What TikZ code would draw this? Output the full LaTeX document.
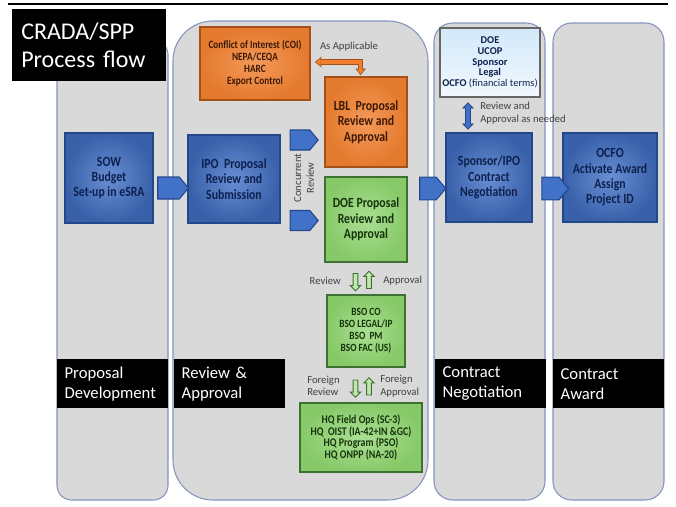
\documentclass[tikz,border=0pt]{standalone}
\usepackage{fontspec}
\setmainfont{Carlito}
\newfontfamily\condfont[FakeStretch=0.84]{Carlito}
\usetikzlibrary{shapes.symbols,shapes.arrows,arrows.meta}
\definecolor{lanegray}{RGB}{217,217,217}
\definecolor{laneedge}{RGB}{132,148,188}
\definecolor{boxblue}{RGB}{66,114,200}
\definecolor{bluedark}{RGB}{36,70,138}
\definecolor{textblue}{RGB}{14,32,78}
\definecolor{boxorange}{RGB}{240,128,48}
\definecolor{orangedark}{RGB}{165,80,22}
\definecolor{textorange}{RGB}{60,25,5}
\definecolor{boxgreen}{RGB}{142,212,110}
\definecolor{greendark}{RGB}{62,112,50}
\definecolor{textgreen}{RGB}{22,52,12}
\definecolor{paleblue}{RGB}{210,232,250}
\definecolor{notegray}{RGB}{64,64,64}

\begin{document}
\begin{tikzpicture}[x=0.75pt,y=-0.75pt,
	lane/.style={fill=lanegray,draw=laneedge,line width=0.8pt},
	band/.style={fill=black,text=white,anchor=north west,align=left,text width=72pt,inner xsep=5.5pt,minimum height=36.75pt,font=\fontsize{12.5}{15}\selectfont},
	bluebox/.style={draw=bluedark,line width=1.2pt,inner color=boxblue!80!white,outer color=boxblue!85!black,text=textblue,align=center,inner sep=1pt,font=\condfont\bfseries\fontsize{10.5}{11.5}\selectfont},
	orangebox/.style={draw=orangedark,line width=1.2pt,inner color=boxorange!80!white,outer color=boxorange!95!black,text=textorange,align=center,inner sep=1pt,font=\condfont\bfseries\fontsize{10.5}{11.5}\selectfont},
	greenbox/.style={draw=greendark,line width=1.2pt,inner color=boxgreen!75!white,outer color=boxgreen!95!black,text=textgreen,align=center,inner sep=1pt,font=\condfont\bfseries\fontsize{10.5}{11.5}\selectfont},
	smalltext/.style={font=\condfont\bfseries\fontsize{8.3}{9}\selectfont},
	chevron/.style={signal,signal to=east,signal pointer angle=100,draw=bluedark,fill=boxblue,line width=0.8pt,inner sep=0pt},
	greenarrow/.style={single arrow,draw=greendark,fill=boxgreen!55!white,line width=0.7pt,minimum height=13pt,single arrow head extend=2.2pt,inner sep=1.4pt},
	note/.style={text=notegray,inner sep=0pt,font=\fontsize{8}{9.5}\selectfont}]

		\useasboundingbox (0,0) rectangle (676,507);
		\draw[line width=1.1pt] (8,4) -- (668,4);

		\filldraw[lane,rounded corners=11pt] (57,40) rectangle (168,500);
		\filldraw[lane,rounded corners=30pt] (173,21) rectangle (428,500);
		\filldraw[lane,rounded corners=14pt] (434,23) rectangle (545,500);
		\filldraw[lane,rounded corners=14pt] (553,23) rectangle (664,500);

		\node[fill=black,text=white,anchor=north west,align=left,text width=102pt,inner xsep=6.75pt,minimum height=54pt,font=\fontsize{18}{21}\selectfont] (title) at (12,9) {CRADA/SPP\\Process flow};

		\node[band] (banddev) at (57,359) {Proposal\\Development};
		\node[band] (bandrev) at (174,359) {Review \&\\Approval};
		\node[band] (bandneg) at (435,359) {Contract\\Negotiation};
		\node[band] (bandaward) at (553,359) {Contract\\Award};

		\node[bluebox,minimum width=66pt,minimum height=67.5pt] (sow) at (109,178) {SOW\\Budget\\Set-up in eSRA};
		\node[bluebox,minimum width=69pt,minimum height=66pt] (ipo) at (234,179) {IPO\ \ Proposal\\Review and\\Submission};
		\node[orangebox,smalltext,minimum width=82.5pt,minimum height=55pt] (coi) at (255,63.5) {Conflict of Interest (COI)\\NEPA/CEQA\\HARC\\Export Control};
		\node[orangebox,minimum width=61.5pt,minimum height=67.5pt] (lbl) at (366,122) {LBL\ \ Proposal\\Review and\\Approval};
		\node[greenbox,minimum width=61.5pt,minimum height=64pt] (doe) at (366,219.5) {DOE Proposal\\Review and\\Approval};
		\node[greenbox,smalltext,minimum width=58.5pt,minimum height=54pt] (bso) at (366,331) {BSO CO\\BSO LEGAL/IP\\BSO\ \ PM\\BSO FAC (US)};
		\node[greenbox,smalltext,font=\condfont\bfseries\fontsize{8.8}{8.8}\selectfont,minimum width=91.5pt,minimum height=52pt] (hq) at (361,437.5) {HQ Field Ops (SC-3)\\HQ\ \ OIST (IA-42+IN \&GC)\\HQ Program (PSO)\\HQ ONPP (NA-20)};
		\node[draw=black!60,line width=1.2pt,top color=paleblue,bottom color=paleblue!30!white,text=textblue,align=center,inner sep=1pt,font=\bfseries\fontsize{7.8}{8}\selectfont,minimum width=75pt,minimum height=52pt] (parties) at (490,62.5) {DOE\\UCOP\\Sponsor\\Legal\\OCFO {\mdseries(financial terms)}};
		\node[bluebox,minimum width=64.5pt,minimum height=67pt] (sponsor) at (489,177.5) {Sponsor/IPO\\Contract\\Negotiation};
		\node[bluebox,minimum width=70.5pt,minimum height=67pt] (ocfo) at (610,177.5) {OCFO\\Activate Award\\Assign\\Project ID};

		\node[chevron,minimum width=23pt,minimum height=16.5pt] (sowipo) at (168.5,188) {};
		\node[chevron,minimum width=21pt,minimum height=15pt] (tolbl) at (300,140) {};
		\node[chevron,minimum width=21pt,minimum height=15pt] (todoe) at (300,220.5) {};
		\node[chevron,minimum width=19.5pt,minimum height=17pt] (doesponsor) at (428,188.5) {};
		\node[chevron,minimum width=20pt,minimum height=17pt] (sponsorocfo) at (550.5,188.5) {};

		\node[note,rotate=90,align=center] (concur) at (304,178) {Concurrent\\Review};
		\node[note] (asapp) at (349,47) {As Applicable};
		\draw[line width=3.9pt,draw=orangedark,{Triangle[width=8pt,length=5pt,line width=0pt]}-{Triangle[width=8pt,length=5pt,line width=0pt]}] ([xshift=3pt,yshift=1.1pt]coi.east) -| ([xshift=-4pt,yshift=0.7pt]lbl.north);
		\draw[line width=2.4pt,draw=boxorange,shorten <=0.9pt,shorten >=0.9pt,{Triangle[width=5.4pt,length=3.4pt,line width=0pt]}-{Triangle[width=5.4pt,length=3.4pt,line width=0pt]}] ([xshift=3pt,yshift=1.1pt]coi.east) -| ([xshift=-4pt,yshift=0.7pt]lbl.north);

		\node[double arrow,shape border rotate=90,fill=boxblue,draw=bluedark,line width=0.6pt,minimum height=19.5pt,double arrow head extend=2pt,inner sep=1.5pt] (negarrow) at (468,116) {};
		\node[note,anchor=west,align=left] (asneeded) at (480,113) {Review and\\Approval as needed};

		\node[greenarrow,shape border rotate=270] (revdown) at (355.5,281) {};
		\node[greenarrow,shape border rotate=90] (appup) at (369,281) {};
		\node[note,anchor=east] (revtext) at (341,281) {Review};
		\node[note,anchor=west] (apptext) at (383,281) {Approval};

		\node[greenarrow,shape border rotate=270] (frevdown) at (355.5,387.5) {};
		\node[greenarrow,shape border rotate=90] (fappup) at (369,387.5) {};
		\node[note,anchor=west,align=left] (frevtext) at (307,386) {Foreign\\Review};
		\node[note,anchor=west,align=left] (fapptext) at (380,386) {Foreign\\Approval};

	\end{tikzpicture}
\end{document}
